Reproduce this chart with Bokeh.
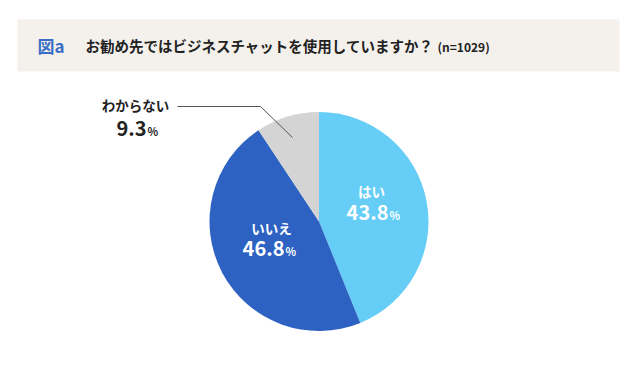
import math
from bokeh.plotting import figure
from bokeh.models import Range1d, ColumnDataSource
from bokeh.core.properties import value
from bokeh.embed import file_html
from bokeh.resources import INLINE

# ---- data ----
categories = ["はい", "いいえ", "わからない"]
percents = [43.8, 46.8, 9.3]
colors = ["#66CDF6", "#2D62C2", "#D4D4D4"]
title_tag = "図a"
title_text = "お勧め先ではビジネスチャットを使用していますか？"
title_n = "(n=1029)"

W, H = 623, 350
PAGE_H = 366
def Y(py):
    return PAGE_H - py

p = figure(width=W, height=H, output_backend="svg", toolbar_location=None,
           x_range=Range1d(0, W), y_range=Range1d(PAGE_H - H, PAGE_H),
           x_axis_type=None, y_axis_type=None, min_border=0)
p.outline_line_color = None
p.grid.visible = False
p.background_fill_color = "white"
p.border_fill_color = "white"

JP = value("Noto Sans CJK JP")

# header band
p.quad(left=[17], right=[619], top=[Y(19)], bottom=[Y(71)], fill_color="#F4F1EC", line_color=None)
p.text(x=[37], y=[Y(45)], text=[title_tag], text_font=JP, text_font_style="bold",
       text_font_size="17px", text_color="#3A6EC6", text_baseline="middle")
p.text(x=[85], y=[Y(45)], text=[title_text], text_font=JP, text_font_style="bold",
       text_font_size="14.5px", text_color="#222222", text_baseline="middle")
p.text(x=[437], y=[Y(46)], text=[title_n], text_font=JP, text_font_style="bold",
       text_font_size="12px", text_color="#222222", text_baseline="middle")

# pie
cx, cy, r = 318.5, Y(221), 109.5
total = sum(percents)
starts, ends = [], []
acc = 0.0
for v in percents:
    a0 = math.pi / 2 - 2 * math.pi * acc / total
    acc += v
    a1 = math.pi / 2 - 2 * math.pi * acc / total
    starts.append(a0)
    ends.append(a1)
src = ColumnDataSource(dict(x=[cx] * 3, y=[cy] * 3, start=starts, end=ends, color=colors))
p.wedge(x="x", y="y", radius=r, start_angle="start", end_angle="end", direction="clock",
        fill_color="color", line_color=None, source=src)

# labels: (name position, number position, text color)
label_pos = [
    ((371, 190), (388, 212), "white"),
    ((271, 227), (284, 248), "white"),
    ((135, 104), (146, 128), "#222222"),
]
for (cat, pct, (npos, vpos, col)) in zip(categories, percents, label_pos):
    p.text(x=[npos[0]], y=[Y(npos[1])], text=[cat], text_font=JP, text_font_style="bold",
           text_font_size="13.5px", text_color=col, text_align="center", text_baseline="middle")
    p.text(x=[vpos[0]], y=[Y(vpos[1])], text=[f"{pct:.1f}"], text_font=JP, text_font_style="bold",
           text_font_size="20px", text_color=col, text_align="right", text_baseline="middle")
    p.text(x=[vpos[0] + 1], y=[Y(vpos[1] + 2)], text=["%"], text_font=JP, text_font_style="bold",
           text_font_size="11px", text_color=col, text_align="left", text_baseline="middle")

# leader line for わからない
p.line(x=[177, 260, 292], y=[Y(106), Y(106), Y(137)], line_color="#555555", line_width=1)

open("out.html", "w").write(file_html(p, INLINE))
